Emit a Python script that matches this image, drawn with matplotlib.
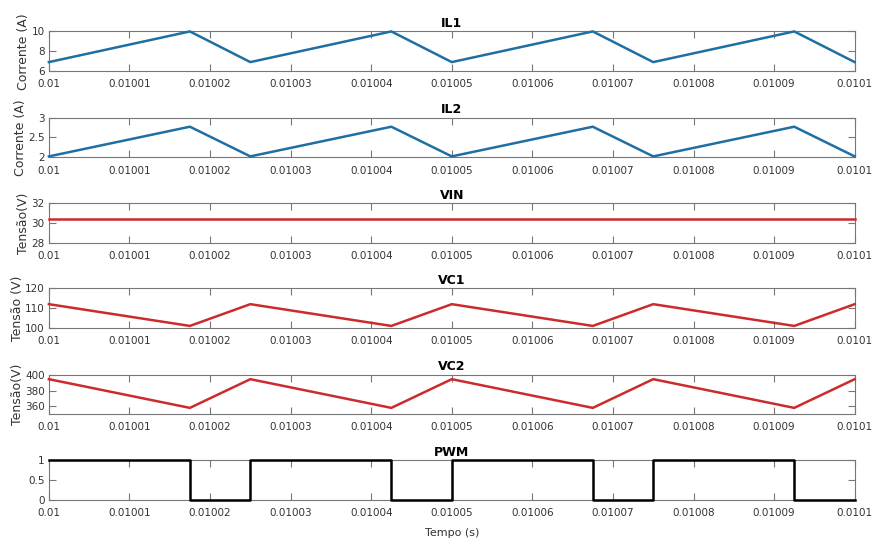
import numpy as np
import matplotlib.pyplot as plt

# breakpoints of the waveforms (s)
t = [0.01, 0.0100175, 0.010025, 0.0100425, 0.01005, 0.0100675,
     0.010075, 0.0100925, 0.0101]

il1 = [6.9, 10.0, 6.9, 10.0, 6.9, 10.0, 6.9, 10.0, 6.9]
il2 = [2.02, 2.77, 2.02, 2.77, 2.02, 2.77, 2.02, 2.77, 2.02]
vin = [30.4, 30.4, 30.4, 30.4, 30.4, 30.4, 30.4, 30.4, 30.4]
vc1 = [112, 101, 112, 101, 112, 101, 112, 101, 112]
vc2 = [395, 358, 395, 358, 395, 358, 395, 358, 395]
pwm = [1, 0, 1, 0, 1, 0, 1, 0, 0]

xticks = [0.01, 0.01001, 0.01002, 0.01003, 0.01004, 0.01005,
          0.01006, 0.01007, 0.01008, 0.01009, 0.0101]
xticklabels = ['0.01', '0.01001', '0.01002', '0.01003', '0.01004', '0.01005',
               '0.01006', '0.01007', '0.01008', '0.01009', '0.0101']

blue = '#1f6fa3'
red = '#cc2b2b'

panels = [
    ("IL1", il1, blue, "Corrente (A)", (6, 10), [6, 8, 10], ['6', '8', '10']),
    ("IL2", il2, blue, "Corrente (A)", (2, 3), [2, 2.5, 3], ['2', '2.5', '3']),
    ("VIN", vin, red, "Tensão(V)", (28, 32), [28, 30, 32], ['28', '30', '32']),
    ("VC1", vc1, red, "Tensão (V)", (100, 120), [100, 110, 120], ['100', '110', '120']),
    ("VC2", vc2, red, "Tensão(V)", (350, 401), [360, 380, 400], ['360', '380', '400']),
    ("PWM", pwm, 'black', "", (0, 1), [0, 0.5, 1], ['0', '0.5', '1']),
]

bottoms = [0.869, 0.710, 0.552, 0.395, 0.236, 0.0775]

fig = plt.figure(figsize=(8.73, 5.42), dpi=100)

for (name, y, col, ylab, ylim, yt, ytl), b in zip(panels, bottoms):
    ax = fig.add_axes([0.056, b, 0.923, 0.073])
    if name == "PWM":
        ax.plot(t, y, color=col, lw=1.8, drawstyle='steps-post', clip_on=False, zorder=5)
    else:
        ax.plot(t, y, color=col, lw=1.8, clip_on=False, zorder=5)
    ax.set_xlim(0.01, 0.0101)
    ax.set_ylim(*ylim)
    ax.set_xticks(xticks)
    ax.set_xticklabels(xticklabels)
    ax.set_yticks(yt)
    ax.set_yticklabels(ytl)
    ax.tick_params(axis='both', direction='in', length=5, width=0.8, color='#777777',
                   labelsize=7.5, labelcolor='#333333',
                   top=True, right=True)
    ax.tick_params(axis='x', pad=6)
    ax.tick_params(axis='y', pad=3)
    for s in ax.spines.values():
        s.set_color('#777777')
        s.set_linewidth(0.8)
    ax.set_title(name, fontsize=9, fontweight='bold', pad=3)
    if ylab:
        ax.set_ylabel(ylab, fontsize=9, color='#333333', labelpad=1)
    if name == "PWM":
        ax.set_xlabel("Tempo (s)", fontsize=8, color='#333333', labelpad=7)

fig.savefig("out.png", dpi=100)
